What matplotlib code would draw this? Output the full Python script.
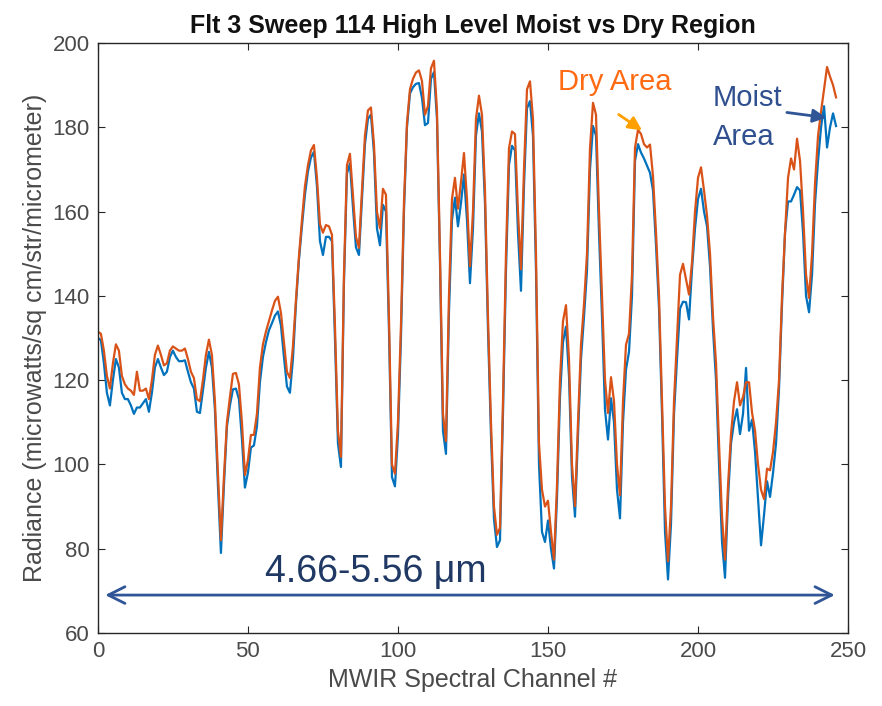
import numpy as np
import matplotlib
matplotlib.use('Agg')
from matplotlib import pyplot as plt

# channel numbers of the points
channel = list(range(0, 247))

# dry area radiance (orange)
dry = [131.5, 131, 127, 121, 118, 124, 128.5, 127, 121, 119,
       118, 117.5, 116.5, 122, 117.5, 117.5, 118, 115.5, 120, 126,
       128.2, 126, 123.5, 124, 127, 128, 127.5, 127, 127, 127.5,
       125, 122, 120.5, 115.5, 115, 120, 126, 129.6, 126, 115,
       98, 82, 97, 110, 116, 121.5, 121.7, 119, 110, 97.5,
       101, 107, 107, 112, 123, 128.5, 131.5, 134, 136.5, 138.8,
       139.8, 136, 129, 122, 120.5, 128, 139, 149.3, 158, 166,
       171, 174.5, 175.8, 168, 157, 155, 156.8, 156.5, 154.5, 133,
       108, 101.8, 145, 171, 173.7, 164, 154, 151.4, 165, 178,
       184, 184.7, 176, 160, 156, 165.4, 164, 135, 100, 97.8,
       110, 133, 162, 181, 189, 191.5, 193, 193.5, 191, 183,
       185, 194, 195.8, 184, 150, 112, 105.5, 140, 163, 168,
       160.7, 167, 173.9, 163, 147, 160, 182, 187.5, 183, 165,
       135, 110, 90, 83.3, 85, 115, 150, 175, 179, 178.4,
       160, 146.3, 170, 189, 190.9, 182, 150, 105, 94, 90,
       91.4, 84, 77.4, 95, 120, 134, 137.8, 125, 100, 90.1,
       110, 128.4, 138, 150, 175, 185.8, 183, 160, 140, 120,
       112.2, 120.7, 115, 100, 92.7, 115, 128.4, 131, 145, 175.2,
       179.4, 178.4, 176, 175.2, 175.9, 168.4, 155, 140, 115, 90,
       77, 90, 115, 130, 145, 147.6, 144, 140.3, 148, 160,
       168, 170.5, 165, 159, 150, 135, 124, 105, 87.6, 77.4,
       95, 107.2, 115, 119.5, 114, 116, 119.5, 119.5, 112.3, 108,
       100, 94, 91.8, 99, 98.6, 103, 110, 120, 140, 155,
       168, 172.6, 170, 177.3, 172, 160, 145, 139.5, 150, 166.7,
       178, 183.7, 189, 194.3, 192, 190, 187.1]

# moist area radiance (blue)
moist = [130, 129.5, 124, 117, 114, 120, 125, 123, 117, 115.5,
         115.5, 114, 112, 113.5, 113.5, 114.5, 115.5, 112.5, 117, 123,
         125, 123, 121.2, 122, 125.5, 127, 125.5, 124.5, 124.5, 124.7,
         122, 119.5, 118, 112.5, 112.2, 117.5, 123, 126.7, 123, 113,
         95, 79, 95, 109, 114, 117.8, 118, 115.5, 106, 94.5,
         98, 104, 104.5, 109, 119.5, 125.5, 129, 131.8, 133.5, 135.3,
         136.3, 133, 125.5, 118.5, 117, 125, 138, 148.5, 156.5, 164,
         169.5, 172.8, 174.2, 166, 153, 149.7, 154, 154, 153, 130,
         105, 99.4, 143, 169, 171.4, 161, 151.5, 149.7, 163, 176,
         182, 183, 174, 156, 152, 161.6, 160, 132, 97, 94.8,
         107, 130, 160, 180, 188, 189.5, 190.3, 190.5, 187, 180.5,
         181, 191.5, 193.1, 182, 148, 108, 102.5, 136, 158, 163.3,
         156.5, 162, 168.8, 158, 143, 156, 178, 183.3, 179, 162,
         132, 107, 87, 80.4, 82, 112, 146, 171, 175.6, 174.5,
         155, 141.2, 166, 184.5, 186.2, 178, 146, 100, 84, 81.6,
         86.7, 80, 75.3, 92, 116, 129, 132.7, 121, 97, 87.6,
         107, 125, 135, 146, 170, 180.3, 178, 155, 135, 113,
         105.9, 115.7, 110, 94, 87.2, 110, 122.5, 126.7, 140, 172,
         176, 174, 172.6, 170.9, 169.2, 165, 152, 137, 112, 84,
         72.7, 86, 112, 125, 137, 138.6, 138.5, 134.4, 146.3, 156,
         163, 165.4, 160, 156.5, 147, 132, 120, 100, 81.6, 73.1,
         92, 105, 110, 113.1, 107.2, 112, 122.9, 108, 110.6, 103,
         92, 80.8, 88, 96, 92.3, 98, 105, 118, 138, 155,
         162.4, 162.4, 164, 165.8, 165, 155, 140, 136.1, 145, 162,
         172, 180, 185, 175.2, 180, 183.3, 180.3]

xticks = [0, 50, 100, 150, 200, 250]
yticks = [60, 80, 100, 120, 140, 160, 180, 200]

plt.rcParams['font.family'] = ['Liberation Sans', 'DejaVu Sans']

fig = plt.figure(figsize=(8.82, 7.06), dpi=100)
ax = fig.add_axes([0.111, 0.1034, 0.8505, 0.8357])

ax.plot(channel, moist, color='#0072BD', lw=1.6)
ax.plot(channel, dry, color='#D95319', lw=1.6)

ax.set_xlim(0, 250)
ax.set_ylim(60, 200)
ax.set_xticks(xticks)
ax.set_yticks(yticks)
ax.tick_params(direction='in', top=True, right=True, length=5,
               labelsize=16, colors='#262626', labelcolor='#4a4a4a', pad=6)
for s in ax.spines.values():
    s.set_color('#262626')
    s.set_linewidth(1.0)

ax.set_title('Flt 3 Sweep 114 High Level Moist vs Dry Region', fontsize=18,
             fontweight='bold', color='#111111', pad=7)
ax.set_xlabel('MWIR Spectral Channel #', fontsize=18, color='#4a4a4a',
              labelpad=4)
ax.set_ylabel('Radiance (microwatts/sq cm/str/micrometer)', fontsize=18,
              color='#4a4a4a', labelpad=4)

# band annotation
ax.annotate('', xy=(1.5, 69), xytext=(246.5, 69),
            arrowprops=dict(arrowstyle='<->', color='#2F5597', lw=2,
                            mutation_scale=30))
ax.text(92.5, 74.5, '4.66-5.56 \u03bcm', fontsize=27, color='#1F3864',
        ha='center', va='center')

# labels for the two regions
ax.text(172.4, 190.7, 'Dry Area', fontsize=21, color='#FF6A13',
        ha='center', va='center')
ax.annotate('', xy=(182.1, 178.9), xytext=(172.8, 183.4),
            arrowprops=dict(arrowstyle='-|>', color='#FFA000', lw=2,
                            mutation_scale=20))
ax.text(205, 186.9, 'Moist', fontsize=21, color='#2F4F8F', ha='left', va='center')
ax.text(205, 177.7, 'Area', fontsize=21, color='#2F4F8F', ha='left', va='center')
ax.annotate('', xy=(243.7, 182.2), xytext=(228.7, 183.6),
            arrowprops=dict(arrowstyle='-|>', color='#2F5597', lw=2,
                            mutation_scale=20))

fig.savefig('out.png', dpi=100)
